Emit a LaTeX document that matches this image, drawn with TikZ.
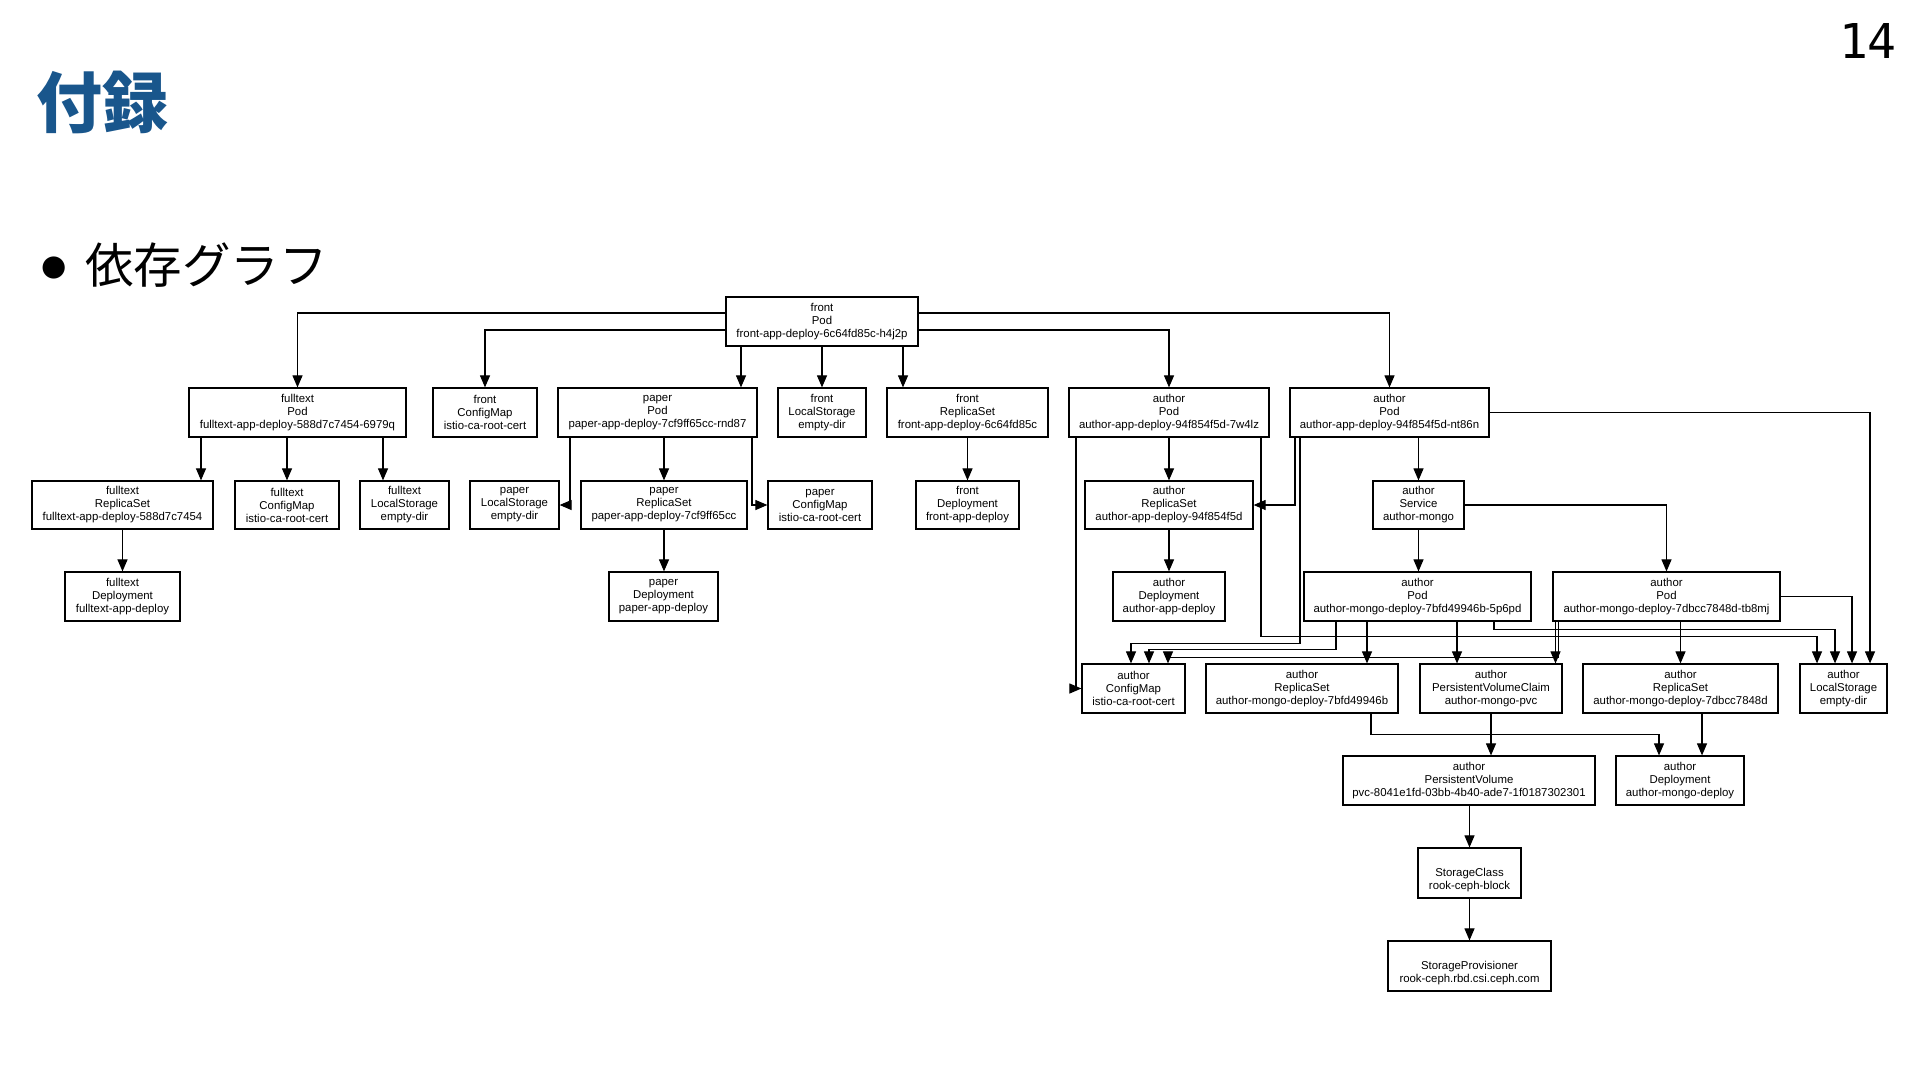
\documentclass[tikz,border=0pt]{standalone}
\usepackage{fontspec}
\setmainfont{Liberation Sans}
\newfontfamily\cjk{Noto Sans CJK JP}
\newfontfamily\dejavu{DejaVu Sans}
\newfontfamily\monodv{DejaVu Sans Mono}
\usetikzlibrary{arrows.meta}
\definecolor{titleblue}{RGB}{25,86,140}
\newcommand{\kbox}[6]{\node[box, minimum width={#3-#2}, minimum height={#5-#4}] (#1) at ({(#2+#3)/2},{(#4+#5)/2}) {#6};}
\begin{document}
\begin{tikzpicture}[x=1pt,y=-1pt,
  box/.style={draw=black, line width=1.2pt, inner sep=0pt, align=center, font=\fontsize{11.4}{13}\selectfont},
  edge/.style={line width=1.1pt, -{Triangle[length=12pt,width=10pt]}}]
\fill[white] (0,0) rectangle (1920,1080);
\useasboundingbox (0,0) rectangle (1920,1080);

% header
\node[anchor=base west, inner sep=0pt, text=titleblue, font=\cjk\bfseries\fontsize{66}{66}\selectfont] (title) at (36,127) {付録};
\node[anchor=base west, inner sep=0pt, font=\dejavu\fontsize{29}{29}\selectfont] (bullet) at (41,275) {●};
\node[anchor=base west, inner sep=0pt, font=\cjk\fontsize{48.5}{48.5}\selectfont] (sub) at (85,283) {依存グラフ};
\node[anchor=base east, inner sep=0pt, font=\monodv\fontsize{48}{48}\selectfont] (pnum) at (1897,58) {14};

% nodes
\kbox{frontPod}{726}{918}{297}{346}{front\\Pod\\front-app-deploy-6c64fd85c-h4j2p}
\kbox{ftPod}{189}{406}{388}{437}{fulltext\\Pod\\fulltext-app-deploy-588d7c7454-6979q}
\kbox{frCM}{433}{537}{388}{437}{front\\ConfigMap\\istio-ca-root-cert}
\kbox{paPod}{558}{757}{388}{437}{paper\\Pod\\paper-app-deploy-7cf9ff65cc-rnd87}
\kbox{frLS}{778}{866}{388}{437}{front\\LocalStorage\\empty-dir}
\kbox{frRS}{887}{1048}{388}{437}{front\\ReplicaSet\\front-app-deploy-6c64fd85c}
\kbox{auPodA}{1069}{1269}{388}{437}{author\\Pod\\author-app-deploy-94f854f5d-7w4lz}
\kbox{auPodB}{1290}{1489}{388}{437}{author\\Pod\\author-app-deploy-94f854f5d-nt86n}

\kbox{ftRS}{32}{213}{481}{529}{fulltext\\ReplicaSet\\fulltext-app-deploy-588d7c7454}
\kbox{ftCM}{235}{339}{481}{529}{fulltext\\ConfigMap\\istio-ca-root-cert}
\kbox{ftLS}{360}{449}{481}{529}{fulltext\\LocalStorage\\empty-dir}
\kbox{paLS}{470}{559}{481}{529}{paper\\LocalStorage\\empty-dir}
\kbox{paRS}{581}{747}{481}{529}{paper\\ReplicaSet\\paper-app-deploy-7cf9ff65cc}
\kbox{paCM}{768}{872}{481}{529}{paper\\ConfigMap\\istio-ca-root-cert}
\kbox{frDep}{916}{1019}{481}{529}{front\\Deployment\\front-app-deploy}
\kbox{auRS}{1085}{1253}{481}{529}{author\\ReplicaSet\\author-app-deploy-94f854f5d}
\kbox{auSvc}{1373}{1464}{481}{529}{author\\Service\\author-mongo}

\kbox{ftDep}{65}{180}{572}{621}{fulltext\\Deployment\\fulltext-app-deploy}
\kbox{paDep}{609}{718}{572}{621}{paper\\Deployment\\paper-app-deploy}
\kbox{auDep}{1113}{1225}{572}{621}{author\\Deployment\\author-app-deploy}
\kbox{moPodA}{1304}{1531}{572}{621}{author\\Pod\\author-mongo-deploy-7bfd49946b-5p6pd}
\kbox{moPodB}{1553}{1780}{572}{621}{author\\Pod\\author-mongo-deploy-7dbcc7848d-tb8mj}

\kbox{auCM}{1082}{1185}{664}{713}{author\\ConfigMap\\istio-ca-root-cert}
\kbox{moRSA}{1206}{1398}{664}{713}{author\\ReplicaSet\\author-mongo-deploy-7bfd49946b}
\kbox{pvc}{1420}{1562}{664}{713}{author\\PersistentVolumeClaim\\author-mongo-pvc}
\kbox{moRSB}{1583}{1778}{664}{713}{author\\ReplicaSet\\author-mongo-deploy-7dbcc7848d}
\kbox{auLS}{1800}{1887}{664}{713}{author\\LocalStorage\\empty-dir}

\kbox{pv}{1343}{1595}{756}{805}{author\\PersistentVolume\\pvc-8041e1fd-03bb-4b40-ade7-1f0187302301}
\kbox{moDep}{1616}{1744}{756}{805}{author\\Deployment\\author-mongo-deploy}
\kbox{sc}{1418}{1521}{848}{898}{\rule{0pt}{8.5pt}\\StorageClass\\rook-ceph-block}
\kbox{sp}{1388}{1551}{941}{991}{\rule{0pt}{8.5pt}\\StorageProvisioner\\rook-ceph.rbd.csi.ceph.com}

% edges: front pod
\draw[edge] ([yshift=8.5pt]frontPod.west) -| (ftPod.north);
\draw[edge] ([yshift=-8.5pt]frontPod.west) -| (frCM.north);
\draw[edge] (frontPod.south -| 741,0) -- (paPod.north -| 741,0);
\draw[edge] (frontPod.south) -- (frLS.north);
\draw[edge] (frontPod.south -| 903,0) -- (frRS.north -| 903,0);
\draw[edge] ([yshift=-8.5pt]frontPod.east) -| (auPodA.north);
\draw[edge] ([yshift=8.5pt]frontPod.east) -| (auPodB.north);

% fulltext
\draw[edge] (ftPod.south -| 201,0) -- (ftRS.north -| 201,0);
\draw[edge] (ftPod.south -| ftCM.north) -- (ftCM.north);
\draw[edge] (ftPod.south -| 383,0) -- (ftLS.north -| 383,0);
\draw[edge] (ftRS.south) -- (ftDep.north);

% paper
\draw[edge] (paPod.south -| 570,0) |- (paLS.east);
\draw[edge] (paPod.south -| paRS.north) -- (paRS.north);
\draw[edge] (paPod.south -| 752,0) |- (paCM.west);
\draw[edge] (paRS.south) -- (paRS.south |- paDep.north);
\draw[edge] (frRS.south) -- (frDep.north);

% author app
\draw[edge] (auPodA.south) -- (auRS.north);
\draw[edge] (auRS.south) -- (auDep.north);
\draw[edge] (auPodA.south -| 1076,0) |- (auCM.west);
\draw[edge] (auPodA.south -| 1261,0) -- ++(0,199) -| (auLS.north -| 1817,0);
\draw[edge] (auPodB.south -| 1295,0) |- (auRS.east);
\draw[edge] (auPodB.south -| 1300,0) -- ++(0,206) -| (auCM.north -| 1131,0);
\draw[edge] (auPodB.east) -| (auLS.north -| 1870,0);
\draw[edge] (auPodB.south -| auSvc.north) -- (auSvc.north);
\draw[edge] (auSvc.south) -- (auSvc.south |- moPodA.north);
\draw[edge] (auSvc.east) -| (moPodB.north);

% mongo pods
\draw[edge] (moPodA.south -| 1336,0) -- ++(0,28) -| (auCM.north -| 1149,0);
\draw[edge] (moPodA.south -| 1367,0) -- (moRSA.north -| 1367,0);
\draw[edge] (moPodA.south -| 1457,0) -- (pvc.north -| 1457,0);
\draw[edge] (moPodA.south -| 1494,0) -- ++(0,7.5) -| (auLS.north -| 1835,0);
\draw[edge] (moPodB.south -| 1558.5,0) -- ++(0,36) -| (auCM.north -| 1168,0);
\draw[edge] (moPodB.south -| 1555.5,0) -- (pvc.north -| 1555.5,0);
\draw[edge] (moPodB.south -| moRSB.north) -- (moRSB.north);
\draw[edge] (moPodB.east) -| (auLS.north -| 1852,0);

% lower
\draw[edge] (moRSA.south -| 1371,0) -- ++(0,21) -| (moDep.north -| 1659,0);
\draw[edge] (moRSB.south -| 1702,0) -- (moDep.north -| 1702,0);
\draw[edge] (pvc.south) -- (pvc.south |- pv.north);
\draw[edge] (pv.south -| sc.north) -- (sc.north);
\draw[edge] (sc.south) -- (sp.north);
\end{tikzpicture}
\end{document}
